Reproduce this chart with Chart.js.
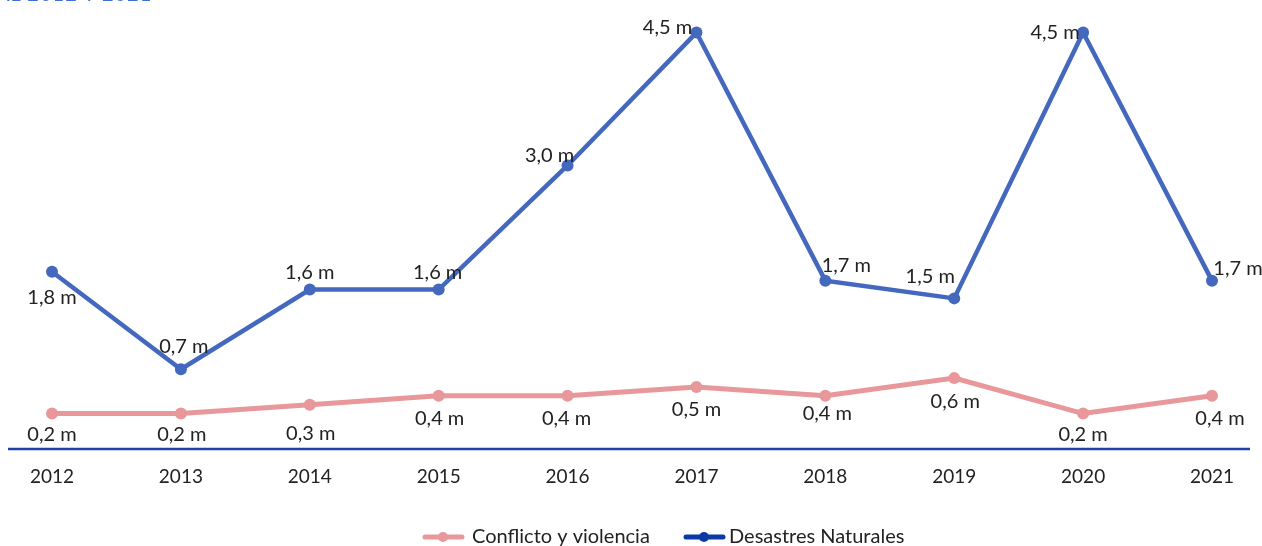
<!DOCTYPE html>
<html>
<head>
<meta charset="utf-8">
<script src="https://cdn.jsdelivr.net/npm/chart.js@4"></script>
<style>
  html, body { margin: 0; padding: 0; background: #fff; overflow: hidden; }
  .wrap { position: relative; width: 1262px; height: 546px; }
  .title { position: absolute; left: -4px; top: -19px; font: 20px Lato, sans-serif; color: #3f6fd0; letter-spacing: 1px; white-space: nowrap; }
</style>
</head>
<body>
<div class="wrap">
  <div class="title">AL 2012 Y 2021</div>
  <canvas id="myChart" width="1262" height="546"></canvas>
</div>
<script>
"use strict";

const years = ["2012", "2013", "2014", "2015", "2016", "2017", "2018", "2019", "2020", "2021"];
const conflicto = [0.2, 0.2, 0.3, 0.4, 0.4, 0.5, 0.4, 0.6, 0.2, 0.4]; // millones
const desastres = [1.8, 0.7, 1.6, 1.6, 3.0, 4.5, 1.7, 1.5, 4.5, 1.7];
const seriesNames = ["Conflicto y violencia", "Desastres Naturales"];

// where each value label sits relative to its point [dx, dy]
const conflictoLabelPos = [[0, 21], [1, 21], [1, 29], [1, 23], [-1, 23], [0, 23], [2, 18], [1, 23], [0, 21], [8, 23]];
const desastresLabelPos = [[0, 26], [3, -23], [0, -17], [-1, -17], [-18, -10], [-29, -5], [21, -15], [-24, -22], [-28, 0], [26, -12]];

const FONT = "Lato, 'Open Sans', sans-serif";

function fmt(v) {
  return v.toFixed(1).replace(".", ",") + " m";
}

const extras = {
  id: "extras",
  afterDraw(chart) {
    const ctx = chart.ctx,
      area = chart.chartArea;
    ctx.save();
    // baseline axis
    ctx.strokeStyle = "#1f40a8";
    ctx.lineWidth = 2.5;
    ctx.beginPath();
    ctx.moveTo(8, area.bottom);
    ctx.lineTo(1250, area.bottom);
    ctx.stroke();

    // value labels
    ctx.font = "20px " + FONT;
    ctx.fillStyle = "#222";
    ctx.textAlign = "center";
    ctx.textBaseline = "middle";
    [conflictoLabelPos, desastresLabelPos].forEach((pos, d) => {
      const meta = chart.getDatasetMeta(d);
      meta.data.forEach((pt, i) => {
        ctx.fillText(fmt(chart.data.datasets[d].data[i]), pt.x + pos[i][0], pt.y + pos[i][1]);
      });
    });

    // legend
    const legend = [
      { x: 425, text: seriesNames[0], color: "#e8979a" },
      { x: 686, text: seriesNames[1], color: "#0b3aa4" },
    ];
    const ly = 537;
    ctx.font = "20px " + FONT;
    legend.forEach(l => {
      ctx.strokeStyle = l.color;
      ctx.fillStyle = l.color;
      ctx.lineWidth = 5;
      ctx.lineCap = "round";
      ctx.beginPath();
      ctx.moveTo(l.x, ly);
      ctx.lineTo(l.x + 37, ly);
      ctx.stroke();
      ctx.beginPath();
      ctx.arc(l.x + 18, ly, 5, 0, Math.PI * 2);
      ctx.fill();
      ctx.fillStyle = "#222";
      ctx.textAlign = "left";
      ctx.fillText(l.text, l.x + (l.x < 500 ? 47 : 43), ly);
    });
    ctx.restore();
  }
};

const ctx = document.getElementById("myChart").getContext("2d");
const chart = new Chart(ctx, {
  type: "line",
  data: {
    labels: years,
    datasets: [
      {
        label: seriesNames[0],
        data: conflicto,
        borderColor: "#e8979a",
        backgroundColor: "#e8979a",
        borderWidth: 5,
        pointRadius: 6,
        pointBorderWidth: 0,
      },
      {
        label: seriesNames[1],
        data: desastres,
        borderColor: "#4468be",
        backgroundColor: "#4468be",
        borderWidth: 4.5,
        pointRadius: 6,
        pointBorderWidth: 0,
      }
    ],
  },
  options: {
    responsive: false,
    animation: false,
    layout: { padding: { top: 4, left: 52, right: 50, bottom: 0 } },
    plugins: { legend: { display: false }, tooltip: { enabled: false } },
    scales: {
      x: {
        offset: false,
        grid: { display: false, drawTicks: false },
        border: { display: false },
        ticks: { color: "#222", font: { family: FONT, size: 19 }, padding: 16, maxRotation: 0 },
        afterFit(scale) { scale.height = 97; },
      },
      y: {
        display: false,
        min: -0.2,
        max: 4.8,
      }
    }
  },
  plugins: [extras],
});
</script>
</body>
</html>
